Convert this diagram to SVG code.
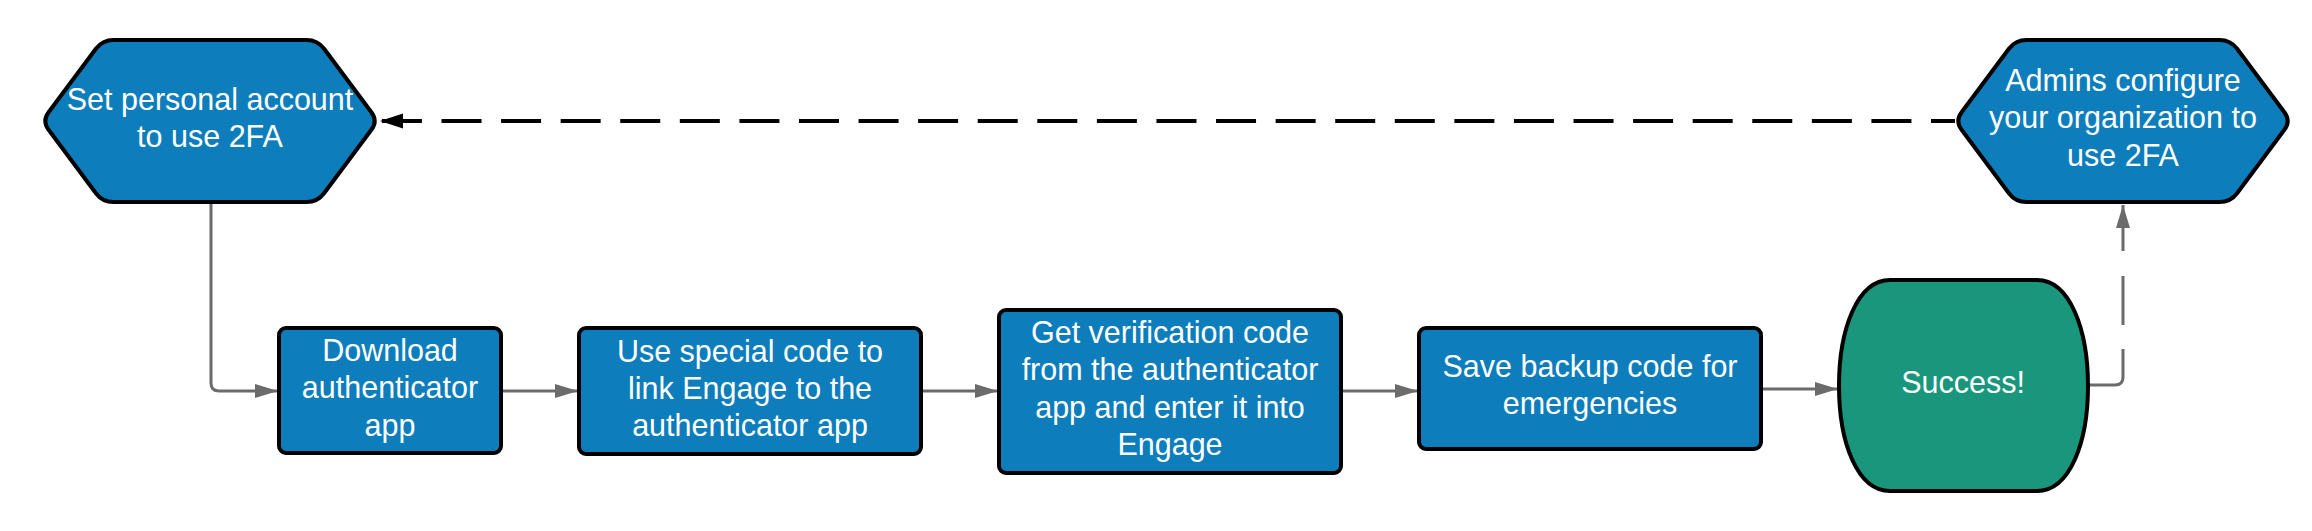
<svg xmlns="http://www.w3.org/2000/svg" width="2312" height="531" viewBox="0 0 2312 531">
  <style>
    .node { stroke: #000000; stroke-width: 4; }
    .blue { fill: #0e7dbc; }
    .teal { fill: #19967c; }
    .lbl { font-family: "Liberation Sans", Arial, sans-serif; font-size: 30.5px; fill: #ffffff; text-anchor: middle; }
    .conn { fill: none; stroke: #6b6b6b; stroke-width: 3; }
    .dashblack { fill: none; stroke: #000000; stroke-width: 4; stroke-dasharray: 40 19.58; stroke-dashoffset: 16; }
  </style>
  <defs>
    <marker id="arrGray" markerUnits="userSpaceOnUse" markerWidth="24" markerHeight="16" refX="23" refY="7" orient="auto">
      <path d="M0,0 L23,7 L0,14 Z" fill="#6b6b6b"/>
    </marker>
    <marker id="arrBlack" markerUnits="userSpaceOnUse" markerWidth="24" markerHeight="16" refX="23" refY="7.5" orient="auto">
      <path d="M0,0 L23,7.5 L0,15 Z" fill="#000000"/>
    </marker>
    <path id="hexShape" d="M -161.4,-8.8 L -114.1,-72.2 Q -107.5,-81 -96.5,-81 L 96.5,-81 Q 107.5,-81 114.1,-72.2 L 161.4,-8.8 Q 168,0 161.4,8.8 L 114.1,72.2 Q 107.5,81 96.5,81 L -96.5,81 Q -107.5,81 -114.1,72.2 L -161.4,8.8 Q -168,0 -161.4,-8.8 Z"/>
  </defs>
  <rect x="0" y="0" width="2312" height="531" fill="#ffffff"/>

  <g id="connectors">
    <path class="conn" d="M 211,203 L 211,383 Q 211,391 219,391 L 278,391" marker-end="url(#arrGray)"/>
    <path class="conn" d="M 501,391 L 578,391" marker-end="url(#arrGray)"/>
    <path class="conn" d="M 921,391 L 998,391" marker-end="url(#arrGray)"/>
    <path class="conn" d="M 1341,391 L 1418,391" marker-end="url(#arrGray)"/>
    <path class="conn" d="M 1761,389 L 1838,389" marker-end="url(#arrGray)"/>
    <path class="conn" d="M 2088,385 L 2115,385 Q 2123,385 2123,377 L 2123,205" stroke-dasharray="67.6 24 49 25 120" marker-end="url(#arrGray)"/>
    <path class="dashblack" d="M 1955,121 L 380,121" marker-end="url(#arrBlack)"/>
  </g>

  <g id="node-set-personal">
    <use href="#hexShape" class="node blue" transform="translate(210,121)"/>
    <text class="lbl"><tspan x="210" y="110">Set personal account</tspan><tspan x="210" y="147">to use 2FA</tspan></text>
  </g>

  <g id="node-admins">
    <use href="#hexShape" class="node blue" transform="translate(2123,121)"/>
    <text class="lbl"><tspan x="2123" y="91">Admins configure</tspan><tspan x="2123" y="128">your organization to</tspan><tspan x="2123" y="166">use 2FA</tspan></text>
  </g>

  <g id="node-download">
    <rect class="node blue" x="279" y="328" width="222" height="125" rx="7"/>
    <text class="lbl"><tspan x="390" y="361">Download</tspan><tspan x="390" y="398">authenticator</tspan><tspan x="390" y="436">app</tspan></text>
  </g>

  <g id="node-link">
    <rect class="node blue" x="579" y="328" width="342" height="126" rx="7"/>
    <text class="lbl"><tspan x="750" y="362">Use special code to</tspan><tspan x="750" y="399">link Engage to the</tspan><tspan x="750" y="436">authenticator app</tspan></text>
  </g>

  <g id="node-verify">
    <rect class="node blue" x="999" y="310" width="342" height="163" rx="7"/>
    <text class="lbl"><tspan x="1170" y="343">Get verification code</tspan><tspan x="1170" y="380">from the authenticator</tspan><tspan x="1170" y="418">app and enter it into</tspan><tspan x="1170" y="455">Engage</tspan></text>
  </g>

  <g id="node-backup">
    <rect class="node blue" x="1419" y="328" width="342" height="121" rx="7"/>
    <text class="lbl"><tspan x="1590" y="377">Save backup code for</tspan><tspan x="1590" y="414">emergencies</tspan></text>
  </g>

  <g id="node-success">
    <path class="node teal" d="M 1890,280 L 2037,280 C 2070,280 2088,330 2088,386 C 2088,442 2070,491 2037,491 L 1890,491 C 1857,491 1839,442 1839,386 C 1839,330 1857,280 1890,280 Z"/>
    <text class="lbl" x="1963" y="393">Success!</text>
  </g>
</svg>
